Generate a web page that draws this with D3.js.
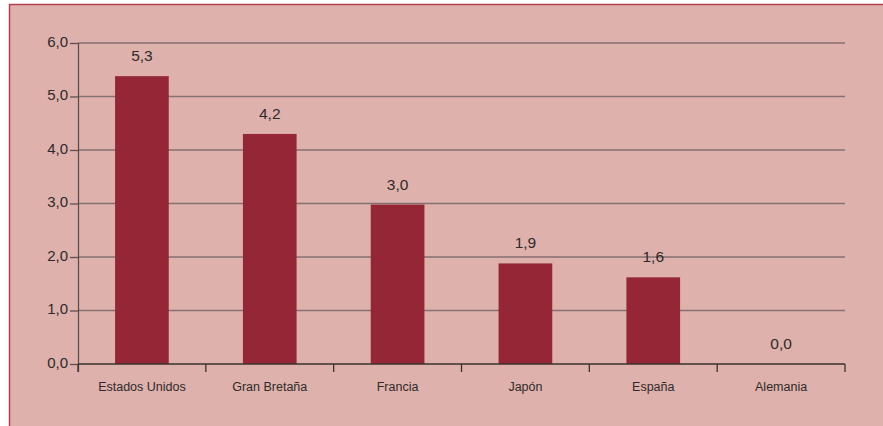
<!DOCTYPE html>
<html>
<head>
<meta charset="utf-8">
<script src="https://cdn.jsdelivr.net/npm/d3@7"></script>
<style>
  body { margin: 0; background: #ffffff; }
  text { font-family: "Liberation Sans", Arial, sans-serif; fill: #2e2a2a; }
</style>
</head>
<body>
<svg id="chart"></svg>
<script>
// data
var paises = ['Estados Unidos', 'Gran Bretaña', 'Francia', 'Japón', 'España', 'Alemania'];
var valores = [5.38, 4.30, 2.98, 1.88, 1.62, 0.0];
var etiquetas = ['5,3', '4,2', '3,0', '1,9', '1,6', '0,0'];
var yTicks = [0, 1, 2, 3, 4, 5, 6];

var width = 883, height = 426;
var margin = {top: 43, right: 38, bottom: 62, left: 78};

var svg = d3.select('#chart')
    .attr('width', width)
    .attr('height', height);

// pink panel with red frame on top and left
svg.append('rect')
    .attr('x', 9)
    .attr('y', 4)
    .attr('width', width - 9)
    .attr('height', height - 4)
    .attr('fill', '#dfb1ac');
svg.append('path')
    .attr('d', 'M9.5,' + height + 'V4.5H' + width)
    .attr('fill', 'none')
    .attr('stroke', '#b3404e')
    .attr('stroke-width', 1.5);

var x = d3.scaleBand()
    .domain(paises)
    .range([margin.left, width - margin.right])
    .paddingInner(0.58)
    .paddingOuter(0.29);

var y = d3.scaleLinear()
    .domain([0, 6])
    .range([height - margin.bottom, margin.top]);

// gridlines
svg.append('g')
    .attr('class', 'grid')
    .selectAll('line')
    .data(yTicks.filter(function(d) { return d > 0; }))
    .join('line')
    .attr('x1', margin.left)
    .attr('x2', width - margin.right)
    .attr('y1', function(d) { return y(d); })
    .attr('y2', function(d) { return y(d); })
    .attr('stroke', '#857171')
    .attr('stroke-width', 1.3);

// bars
svg.append('g')
    .selectAll('rect')
    .data(paises)
    .join('rect')
    .attr('x', function(d) { return x(d); })
    .attr('y', function(d, i) { return y(valores[i]); })
    .attr('width', x.bandwidth())
    .attr('height', function(d, i) { return y(0) - y(valores[i]); })
    .attr('fill', '#952635');

// value labels
svg.append('g')
    .selectAll('text')
    .data(paises)
    .join('text')
    .attr('x', function(d) { return x(d) + x.bandwidth() / 2; })
    .attr('y', function(d, i) { return y(valores[i]) - 15; })
    .attr('text-anchor', 'middle')
    .style('font-size', '15.5px')
    .text(function(d, i) { return etiquetas[i]; });

// y axis
var yAxis = svg.append('g')
    .attr('transform', 'translate(' + margin.left + ',0)')
    .call(d3.axisLeft(y)
        .tickValues(yTicks)
        .tickSize(8)
        .tickFormat(function(d) { return d3.format('.1f')(d).replace('.', ','); }));
yAxis.selectAll('path, line').attr('stroke', '#5e4f4f').attr('stroke-width', 1.3);
yAxis.select('.domain').attr('d', 'M0.5,' + margin.top + 'V' + (y(0) + 8));
yAxis.selectAll('text')
    .style('font-size', '15px')
    .attr('fill', '#2e2a2a')
    .attr('x', -10)
    .attr('dy', '0.2em');

// x axis: baseline, ticks at the band edges, names in the middle
var xAxis = svg.append('g')
    .attr('transform', 'translate(0,' + y(0) + ')');
xAxis.append('line')
    .attr('x1', margin.left)
    .attr('x2', width - margin.right)
    .attr('stroke', '#3a3232')
    .attr('stroke-width', 1.5);
var bordes = d3.range(paises.length + 1).map(function(i) {
    return margin.left + i * x.step();
});
xAxis.selectAll('line.tick')
    .data(bordes)
    .join('line')
    .attr('class', 'tick')
    .attr('x1', function(d) { return d; })
    .attr('x2', function(d) { return d; })
    .attr('y1', 0)
    .attr('y2', 8)
    .attr('stroke', '#3a3232')
    .attr('stroke-width', 1.3);
xAxis.selectAll('text')
    .data(paises)
    .join('text')
    .attr('x', function(d) { return x(d) + x.bandwidth() / 2; })
    .attr('y', 27)
    .attr('text-anchor', 'middle')
    .style('font-size', '12.5px')
    .text(function(d) { return d; });
</script>
</body>
</html>
